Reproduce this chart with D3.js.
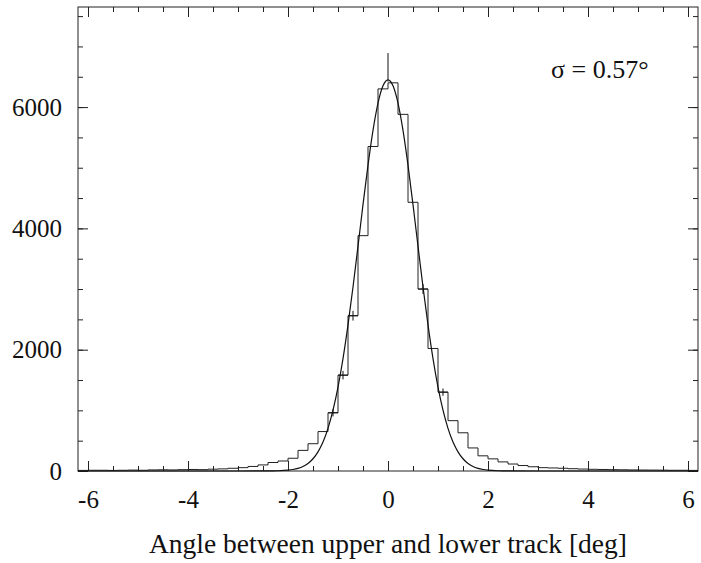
<!DOCTYPE html>
<meta charset="utf-8">
<head></head>
<script src="https://d3js.org/d3.v7.min.js"></script>
<body style="margin:0; background:#fff">
    <div id="my_dataviz"></div>
</body>
<script>

    // histogram: bins of 0.2 deg starting at -6.2
    var binStart = -6.2, binWidth = 0.2;
    var counts = [
        10, 12, 12, 10, 12, 15, 12, 18, 20, 18, 22, 25, 22, 30, 35, 45,
        55, 75, 100, 140, 165, 210, 340, 450, 650, 960, 1580, 2560, 3880, 5350, 6300,
        6400, 5880, 4430, 3000, 2020, 1300, 830, 630, 380, 250, 200, 150, 115, 90,
        70, 55, 50, 45, 38, 32, 28, 25, 22, 20, 18, 16, 15, 14, 12, 12, 10
    ];

    // fitted curve
    var fitX = [-6.2, -3, -2.4, -2.2, -2.0, -1.9, -1.8, -1.7, -1.6, -1.5, -1.4, -1.3, -1.2, -1.1, -1.0,
                -0.9, -0.8, -0.7, -0.6, -0.5, -0.4, -0.3, -0.2, -0.1, 0,
                0.1, 0.2, 0.3, 0.4, 0.5, 0.6, 0.7, 0.8, 0.9, 1.0, 1.1, 1.2, 1.3, 1.4,
                1.5, 1.6, 1.7, 1.8, 1.9, 2.0, 2.2, 2.4, 3, 6.2];
    var fitY = [0, 0, 1, 4, 14, 25, 44, 75, 125, 202, 316, 478, 703, 1003, 1384,
                1854, 2409, 3034, 3707, 4391, 5043, 5616, 6065, 6351, 6450,
                6351, 6065, 5616, 5043, 4391, 3707, 3034, 2409, 1854, 1384, 1003, 703, 478, 316,
                202, 125, 75, 44, 25, 14, 4, 1, 0, 0];

    // data points with error bars (crossW = 0 -> bar only)
    var crossX  = [-1.1, -0.9, -0.7, 0.0, 0.7, 1.1];
    var crossLo = [900, 1510, 2480, 6420, 2920, 1240];
    var crossHi = [1020, 1650, 2640, 6890, 3080, 1360];
    var crossW  = [0.2, 0.2, 0.2, 0, 0.2, 0.2];

    var xTicks = [-6, -4, -2, 0, 2, 4, 6];
    var yTicks = [0, 2000, 4000, 6000];

    var W = 701, H = 563;
    var pLeft = 78, pRight = 698, pTop = 7, pBottom = 471;
    var font = "'Liberation Serif', 'Times New Roman', serif";

    var svg = d3.select("#my_dataviz")
      .append("svg")
        .attr("width", W)
        .attr("height", H)
        .style("font-family", font);

    var x = d3.scaleLinear().domain([-6.2, 6.2]).range([pLeft, pRight]);
    var y = d3.scaleLinear().domain([0, 7650]).range([pBottom, pTop]);

    // frame
    svg.append("rect")
        .attr("x", pLeft).attr("y", pTop)
        .attr("width", pRight - pLeft).attr("height", pBottom - pTop)
        .attr("fill", "none").attr("stroke", "#222").attr("stroke-width", 1);

    function styleAxis(g) {
        g.select(".domain").remove();
        g.selectAll("line").attr("stroke", "#222");
        g.selectAll("text").style("font-family", font).style("font-size", "25px").attr("fill", "#111");
    }

    var minorX = d3.range(-6, 6.01, 0.5), minorY = d3.range(0, 7501, 500);

    // bottom
    svg.append("g").attr("transform", "translate(0," + pBottom + ")")
        .call(d3.axisBottom(x).tickValues(minorX).tickSize(-5).tickFormat(""))
        .call(styleAxis);
    svg.append("g").attr("transform", "translate(0," + pBottom + ")")
        .call(d3.axisBottom(x).tickValues(xTicks).tickSize(-10).tickPadding(19)
              .tickFormat(function(d) { return String(d); }))
        .call(styleAxis);
    // top
    svg.append("g").attr("transform", "translate(0," + pTop + ")")
        .call(d3.axisTop(x).tickValues(minorX).tickSize(-5).tickFormat(""))
        .call(styleAxis);
    svg.append("g").attr("transform", "translate(0," + pTop + ")")
        .call(d3.axisTop(x).tickValues(xTicks).tickSize(-10).tickFormat(""))
        .call(styleAxis);
    // left
    svg.append("g").attr("transform", "translate(" + pLeft + ",0)")
        .call(d3.axisLeft(y).tickValues(minorY).tickSize(-5).tickFormat(""))
        .call(styleAxis);
    svg.append("g").attr("transform", "translate(" + pLeft + ",0)")
        .call(d3.axisLeft(y).tickValues(yTicks).tickSize(-10).tickPadding(16)
              .tickFormat(function(d) { return String(d); }))
        .call(styleAxis);
    // right
    svg.append("g").attr("transform", "translate(" + pRight + ",0)")
        .call(d3.axisRight(y).tickValues(minorY).tickSize(-5).tickFormat(""))
        .call(styleAxis);
    svg.append("g").attr("transform", "translate(" + pRight + ",0)")
        .call(d3.axisRight(y).tickValues(yTicks).tickSize(-10).tickFormat(""))
        .call(styleAxis);

    // histogram steps
    var steps = [];
    counts.forEach(function(c, i) {
        var lo = binStart + i * binWidth;
        steps.push([lo, c]);
        steps.push([lo + binWidth, c]);
    });
    svg.append("path")
        .datum(steps)
        .attr("fill", "none")
        .attr("stroke", "#222")
        .attr("stroke-width", 1)
        .attr("d", d3.line()
            .x(function(d) { return x(d[0]); })
            .y(function(d) { return y(d[1]); }));

    // fit curve
    svg.append("path")
        .datum(fitX.map(function(v, i) { return [v, fitY[i]]; }))
        .attr("fill", "none")
        .attr("stroke", "#111")
        .attr("stroke-width", 1.2)
        .attr("d", d3.line()
            .curve(d3.curveMonotoneX)
            .x(function(d) { return x(d[0]); })
            .y(function(d) { return y(d[1]); }));

    // error bars
    var crosses = svg.append("g").attr("stroke", "#111").attr("stroke-width", 1);
    crossX.forEach(function(cx, i) {
        var mid = (crossLo[i] + crossHi[i]) / 2;
        crosses.append("line")
            .attr("x1", x(cx)).attr("x2", x(cx))
            .attr("y1", y(crossLo[i])).attr("y2", y(crossHi[i]));
        if (crossW[i] > 0) {
            crosses.append("line")
                .attr("x1", x(cx - crossW[i] / 2)).attr("x2", x(cx + crossW[i] / 2))
                .attr("y1", y(mid)).attr("y2", y(mid));
        }
    });

    svg.append("text")
        .attr("x", 551).attr("y", 78)
        .style("font-size", "26px")
        .attr("fill", "#111")
        .text("σ = 0.57°");

    svg.append("text")
        .attr("x", (pLeft + pRight) / 2).attr("y", 553)
        .style("text-anchor", "middle")
        .style("font-size", "27.5px")
        .attr("fill", "#111")
        .text("Angle between upper and lower track [deg]");

</script>
